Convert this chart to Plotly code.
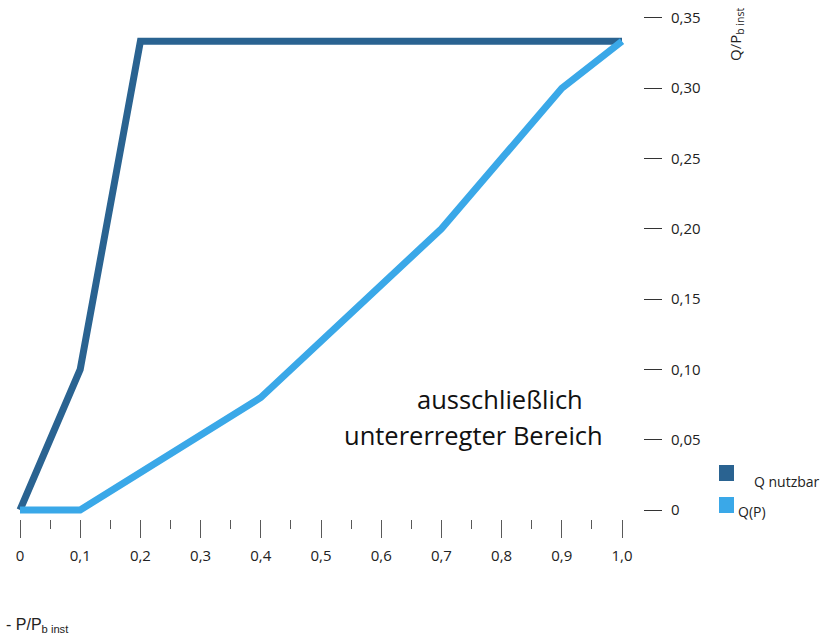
import plotly.graph_objects as go

# P/P_b inst values and the two reactive power curves
p_nutzbar = [0.0, 0.1, 0.2, 1.0]
q_nutzbar = [0.0, 0.1, 1 / 3, 1 / 3]

p_qp = [0.0, 0.1, 0.4, 0.7, 0.9, 1.0]
q_qp = [0.0, 0.0, 0.08, 0.2, 0.3, 1 / 3]

x_tickvals = [0.0, 0.1, 0.2, 0.3, 0.4, 0.5, 0.6, 0.7, 0.8, 0.9, 1.0]
x_ticktext = ["0", "0,1", "0,2", "0,3", "0,4", "0,5", "0,6", "0,7", "0,8", "0,9", "1,0"]
y_tickvals = [0.0, 0.05, 0.10, 0.15, 0.20, 0.25, 0.30, 0.35]
y_ticktext = ["0", "0,05", "0,10", "0,15", "0,20", "0,25", "0,30", "0,35"]

names = ["Q nutzbar", "Q(P)"]
colors = ["#2a6391", "#3aa8e8"]

W, H = 822, 634
L, R, T, B = 0, 179, 10, 115
pw, ph = W - L - R, H - T - B


def px(x):
    """Horizontal pixel position -> paper coordinate."""
    return (x - L) / pw


def py(y):
    """Vertical pixel position (from top) -> paper coordinate."""
    return 1 - (y - T) / ph


fig = go.Figure()
fig.add_trace(go.Scatter(x=p_nutzbar, y=q_nutzbar, mode="lines", name=names[0],
                         line=dict(color=colors[0], width=7), showlegend=False))
fig.add_trace(go.Scatter(x=p_qp, y=q_qp, mode="lines", name=names[1],
                         line=dict(color=colors[1], width=7), showlegend=False))

font_main = "Open Sans, Liberation Sans, sans-serif"
tick_col = "#595959"

fig.update_layout(
    width=W, height=H,
    margin=dict(l=L, r=R, t=T, b=B),
    paper_bgcolor="white", plot_bgcolor="white",
    font=dict(family=font_main, size=15, color="#222222"),
    xaxis=dict(
        range=[-20 / 602, 623 / 602],
        tickvals=x_tickvals, ticktext=x_ticktext,
        ticks="outside", ticklen=18, tickwidth=1.3, tickcolor=tick_col,
        minor=dict(dtick=0.05, tick0=0, ticks="outside", ticklen=9,
                   tickwidth=1.3, tickcolor=tick_col, showgrid=False),
        showgrid=False, zeroline=False, showline=False,
        ticklabelstandoff=5,
        tickfont=dict(size=15, color="#222222"),
    ),
    yaxis=dict(
        side="right",
        range=[-9 / 1406, 500 / 1406],
        tickvals=y_tickvals, ticktext=y_ticktext,
        ticks="outside", ticklen=18, tickwidth=1.3, tickcolor="#333333",
        showgrid=False, zeroline=False, showline=False,
        ticklabelstandoff=6,
        tickfont=dict(size=15, color="#222222"),
    ),
)

# axis titles
fig.add_annotation(
    x=px(736), y=py(35), xref="paper", yref="paper",
    text="Q/P<sub>b inst</sub>", textangle=-90, showarrow=False,
    font=dict(size=15, color="#222222"), xanchor="center", yanchor="middle",
)
fig.add_annotation(
    x=px(4), y=py(625), xref="paper", yref="paper",
    text="- P/P<sub>b inst</sub>", showarrow=False,
    font=dict(family="Liberation Sans, Arial, sans-serif", size=16, color="#222222"),
    xanchor="left", yanchor="middle",
)

# region label, two lines stacked against a shared boundary
fig.add_annotation(
    x=px(500), y=py(417), xref="paper", yref="paper",
    text="ausschließlich", showarrow=False, borderpad=0,
    font=dict(size=25.5, color="#111111"), xanchor="center", yanchor="bottom",
)
fig.add_annotation(
    x=px(473), y=py(417), xref="paper", yref="paper",
    text="untererregter Bereich", showarrow=False, borderpad=0,
    font=dict(size=25.5, color="#111111"), xanchor="center", yanchor="top",
)

# legend keys
legend_boxes = [(719, 465, 734, 481), (719, 497, 734, 513)]
legend_text = [(752, 481), (736, 511)]
for (x0, y0, x1, y1), (tx, ty), name, col in zip(legend_boxes, legend_text, names, colors):
    fig.add_shape(type="rect", xref="paper", yref="paper",
                  x0=px(x0), x1=px(x1), y0=py(y1), y1=py(y0),
                  fillcolor=col, line=dict(width=0))
    fig.add_annotation(x=px(tx), y=py(ty), xref="paper", yref="paper",
                       text=name, showarrow=False, xanchor="left", yanchor="middle",
                       font=dict(size=14, color="#222222"))

fig.write_html("out.html")
